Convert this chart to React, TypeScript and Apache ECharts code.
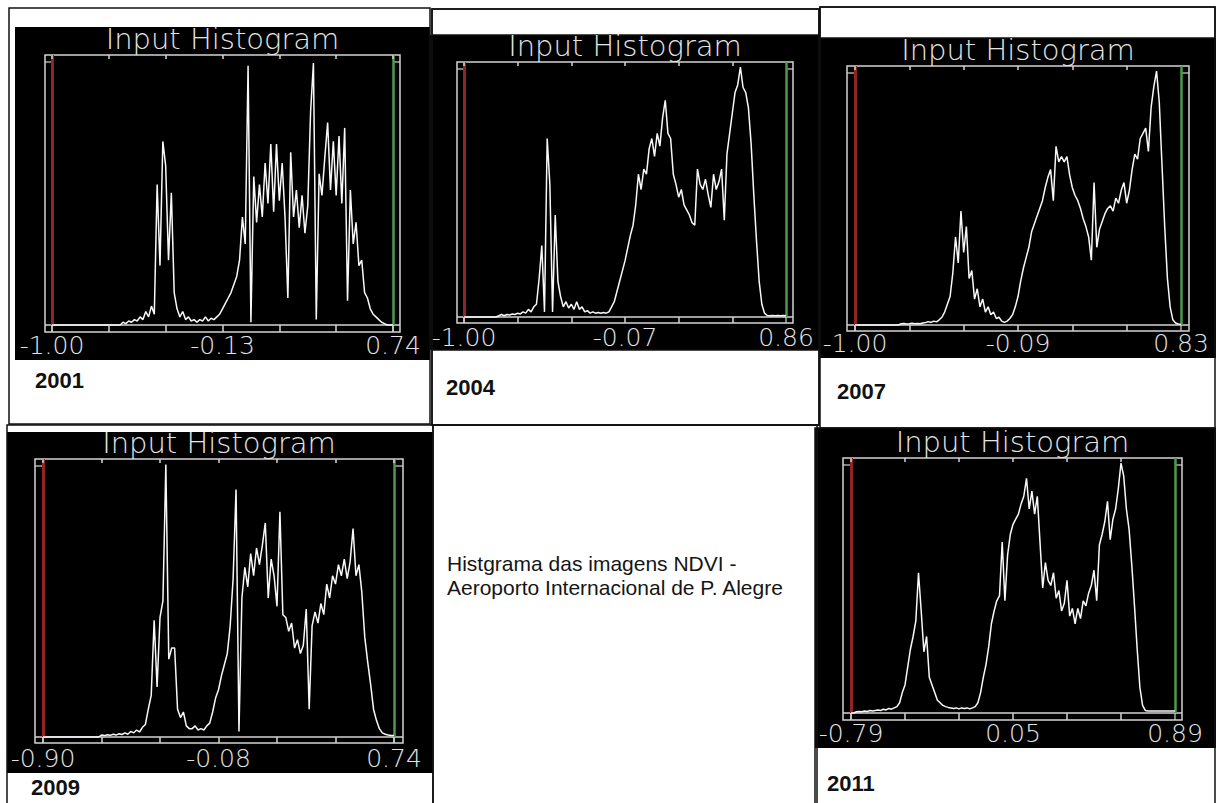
import { useEffect, useRef } from "react";
import * as echarts from "echarts";

// NDVI histograms of the Porto Alegre airport scenes.
// Each array holds 121 relative bin heights (0–100) spread evenly from the
// scene's NDVI minimum (red marker) to its maximum (green marker).
const years = ["2001", "2004", "2007", "2009", "2011"];
const rangeMin = [-1.0, -1.0, -1.0, -0.9, -0.79];
const rangeMax = [0.74, 0.86, 0.83, 0.74, 0.89];

const tickLabels2001 = ["-1.00", "-0.13", "0.74"];
const tickLabels2004 = ["-1.00", "-0.07", "0.86"];
const tickLabels2007 = ["-1.00", "-0.09", "0.83"];
const tickLabels2009 = ["-0.90", "-0.08", "0.74"];
const tickLabels2011 = ["-0.79", "0.05", "0.89"];

const counts2001 = [
  0, 0, 0, 0, 0, 0, 0, 0, 0, 0, 0, 0, 0, 0, 0, 0, 0, 0, 0, 0, 0, 0, 0, 0, 0,
  1, 0.5, 1.5, 1, 2, 1.5, 3, 2, 5, 3, 7, 4,
  52, 22, 68, 59, 24, 49, 12, 6, 3, 5, 2, 3,
  1.5, 2, 1, 2, 1.5, 3, 1.5, 2.5, 2, 3, 4, 6,
  8, 10, 12, 15, 18, 24, 40, 30, 96, 1, 55, 38,
  52, 40, 60, 45, 67, 42, 67, 46, 60, 40, 10, 64,
  40, 50, 36, 48, 34, 44, 79, 97, 2, 56, 48, 62,
  75, 50, 68, 48, 70, 45, 73, 9, 50, 30, 38, 22,
  24, 12, 10, 6, 4, 3, 2, 1, 0.5, 0, 0, 0,
];

const counts2004 = [
  0, 0, 0, 0, 0, 0, 0, 0, 0, 0, 0, 0, 0,
  0.5, 1, 0.5, 1, 0.8, 1.2, 1, 1.5, 1.2, 2, 1.5, 3,
  2, 4, 5, 15, 28, 2, 70, 52, 2, 40, 14, 8,
  4, 6, 3.5, 5, 3, 6, 3, 4, 2, 2.5, 1.5, 2,
  1.5, 1.8, 1.5, 1.8, 1.5, 2, 4, 6, 10, 14, 18, 22,
  27, 32, 36, 44, 56, 50, 58, 56, 66, 70, 63, 72,
  67, 78, 85, 72, 70, 56, 52, 47, 50, 44, 42, 40,
  37, 36, 58, 52, 50, 54, 48, 43, 56, 50, 53, 58,
  38, 64, 72, 80, 88, 91, 98, 90, 88, 82, 68, 48,
  30, 14, 5, 1.5, 0.6, 0.5, 0.6, 0.5, 0.6, 0.5, 0.6, 0.5,
];

const counts2007 = [
  0, 0, 0, 0, 0, 0, 0, 0, 0, 0, 0, 0, 0, 0, 0, 0, 0,
  0.5, 0.6, 0.4, 0.5, 0.7, 0.5, 0.6, 0.5, 0.8, 1, 1.3, 1,
  1.5, 1.2, 2, 3, 5, 8, 11, 20, 34, 24, 44, 28,
  38, 18, 21, 10, 14, 7, 10, 5, 7, 4, 5, 2.5,
  3, 1.5, 1, 1.5, 2.5,
  4, 7, 11, 17, 22, 26, 30, 36, 39, 42, 45, 48,
  53, 57, 60, 48, 69, 63, 65, 63, 65, 58, 53, 50,
  48, 45, 41, 38, 34, 25, 55, 30, 37, 40, 43, 45,
  46, 44, 49, 47, 52, 55, 47, 52, 60, 66, 64, 72,
  74, 76, 67, 84, 92, 98, 86, 62, 38, 18, 7, 2,
  0.8, 0.4, 0.3,
];

const counts2009 = [
  0, 0, 0, 0, 0, 0, 0, 0, 0, 0, 0, 0, 0, 0, 0, 0, 0, 0, 0, 0,
  0.7, 0.5, 0.8, 0.6, 1, 0.7, 1.2, 0.9, 1.5, 1, 2, 1.5,
  2.5, 1.8, 3.5, 4.5, 10, 15, 42, 18, 43, 49, 98, 28,
  32, 32, 10, 7, 9, 4, 3, 3, 4, 2.5, 3, 2.5,
  4, 5, 9, 14, 17, 22, 26, 30, 40, 57, 89, 2,
  50, 61, 54, 66, 58, 68, 62, 69, 77, 50, 64, 58,
  47, 81, 44, 43, 38, 41, 32, 35, 30, 33, 46, 10,
  40, 45, 41, 48, 44, 55, 50, 58, 55, 62, 58, 64,
  57, 63, 75, 58, 62, 52, 36, 27, 19, 10, 6, 3,
  1.5, 1, 0.7, 0.5, 0.5,
];

const counts2011 = [
  0, 0,
  0.5, 0.6, 0.5, 0.8, 0.6, 1, 0.8, 1, 1.2, 1, 1.5, 1.2,
  1.8, 1.5, 2, 2.5, 4, 8, 11, 18, 25, 30, 36, 55,
  40, 24, 30, 14, 11, 8, 5, 4, 3, 2.5, 2.2, 2,
  1.8, 2, 1.6, 2, 1.8, 2, 1.6, 2, 2.5, 4, 8, 14,
  19, 26, 35, 40, 44, 46, 67, 44, 62, 70, 74, 76,
  78, 82, 85, 92, 80, 87, 78, 85, 67, 49, 59, 52,
  50, 55, 45, 48, 40, 43, 52, 38, 41, 35, 41, 37,
  44, 42, 47, 50, 56, 44, 66, 70, 75, 83, 68, 76,
  80, 88, 98, 93, 80, 72, 58, 42, 25, 10, 3, 1,
  0.8, 0.8, 0.8, 0.8, 0.8, 0.8, 0.8, 0.8, 0.8, 0.8, 0.8,
];

const countsByYear = [counts2001, counts2004, counts2007, counts2009, counts2011];
const tickLabelsByYear = [tickLabels2001, tickLabels2004, tickLabels2007, tickLabels2009, tickLabels2011];

// Page layout (pixels): image block, plot frame [l, t, r, b], baseline,
// marker columns, label row and caption position of every panel.
const layout = [
  { black: [15, 27, 415, 333], frame: [45, 55, 400, 332], base: 325, red: 52, green: 393, labelY: 345, year: [35, 380] },
  { black: [430, 35, 390, 315], frame: [457, 62, 793, 323], base: 317, red: 464, green: 786, labelY: 337, year: [446, 387.5] },
  { black: [820, 38, 396, 320], frame: [847, 66, 1189, 331], base: 325, red: 855, green: 1181, labelY: 343, year: [837, 391.5] },
  { black: [7, 432, 426, 341], frame: [35, 459, 403, 743], base: 737, red: 43, green: 394, labelY: 758, year: [31, 787.5] },
  { black: [815, 428, 401, 320], frame: [843, 458, 1182, 720], base: 713, red: 851, green: 1175, labelY: 733, year: [827, 783] },
];

// Table cell outlines around the pictures
const cellBoxes = [
  [9, 8, 421, 416],
  [432, 9, 387, 416],
  [432, 9, 387, 26],
  [432, 350, 387, 75],
  [820, 7, 395, 421],
  [820, 7, 395, 31],
  [7, 425, 426, 400],
  [433, 425, 384, 400],
  [815, 428, 400, 400],
];

const FRAME = "#d4d4d4";
const INK = "#e4e4e4";
const RED = "#8e2424";
const GREEN = "#4e9a4e";
const THIN = "'DejaVu Sans', sans-serif";
const SANS = "'Liberation Sans', Arial, sans-serif";

function seg(x1: number, y1: number, x2: number, y2: number, color: string, w: number, z = 2) {
  return { type: "line", silent: true, z, shape: { x1, y1, x2, y2 }, style: { stroke: color, lineWidth: w } };
}

function buildOption() {
  const graphics: any[] = [];
  const grid: any[] = [];
  const xAxis: any[] = [];
  const yAxis: any[] = [];
  const series: any[] = [];

  cellBoxes.forEach(([x, y, w, h]) => {
    graphics.push({
      type: "rect", silent: true, z: 3,
      shape: { x, y, width: w, height: h },
      style: { fill: "none", stroke: "#111", lineWidth: 1.5 },
    });
  });

  layout.forEach((p, i) => {
    const mn = rangeMin[i];
    const mx = rangeMax[i];
    const counts = countsByYear[i];
    const labels = tickLabelsByYear[i];
    const [fl, ft, fr, fb] = p.frame;

    // picture background
    graphics.push({
      type: "rect", silent: true, z: 1,
      shape: { x: p.black[0], y: p.black[1], width: p.black[2], height: p.black[3] },
      style: { fill: "#000" },
    });
    // plot frame, baseline and the small corner boxes
    graphics.push({
      type: "rect", silent: true, z: 2,
      shape: { x: fl, y: ft, width: fr - fl, height: fb - ft },
      style: { fill: "none", stroke: FRAME, lineWidth: 1.5 },
    });
    graphics.push(seg(fl, p.base, fr, p.base, FRAME, 1.5));
    graphics.push(seg(fl, ft + 7, p.red, ft + 7, FRAME, 1.2));
    graphics.push(seg(p.green, ft + 7, fr, ft + 7, FRAME, 1.2));
    graphics.push(seg(p.red, p.base, p.red, fb, FRAME, 1.2));
    graphics.push(seg(p.green, p.base, p.green, fb, FRAME, 1.2));

    // panel title
    graphics.push({
      type: "text", silent: true, z: 4,
      style: {
        text: "Input Histogram", x: (fl + fr) / 2, y: ft - 16,
        align: "center", verticalAlign: "middle",
        fill: INK, font: `200 29px ${THIN}`,
      },
    });
    // year caption
    graphics.push({
      type: "text", silent: true, z: 4,
      style: {
        text: years[i], x: p.year[0], y: p.year[1],
        align: "left", verticalAlign: "middle",
        fill: "#111", font: `bold 22px ${SANS}`,
      },
    });

    grid.push({ left: p.red, top: ft, width: p.green - p.red, height: p.base - ft });

    const ticks = [0, 1, 2, 3, 4, 5, 6].map((k) => mn + ((mx - mn) * k) / 6);
    const labelValues = [mn, (mn + mx) / 2, mx];

    xAxis.push({
      type: "value", gridIndex: i, position: "bottom", min: mn, max: mx, z: 10,
      axisLine: { show: false }, splitLine: { show: false },
      axisTick: { show: true, inside: false, length: fb - p.base, customValues: ticks, lineStyle: { color: FRAME, width: 1.5 } },
      axisLabel: {
        show: true, customValues: labelValues, showMinLabel: true, showMaxLabel: true,
        margin: p.labelY - p.base - 12,
        color: INK, fontFamily: THIN, fontWeight: 200, fontSize: 25,
        formatter: (v: number) => labels[Math.round(((v - mn) / (mx - mn)) * 2)] ?? "",
      },
    });
    xAxis.push({
      type: "value", gridIndex: i, position: "top", min: mn, max: mx, z: 10,
      axisLine: { show: false }, splitLine: { show: false }, axisLabel: { show: false },
      axisTick: { show: true, inside: true, length: 4, customValues: ticks, lineStyle: { color: FRAME, width: 1.5 } },
    });
    yAxis.push({ type: "value", gridIndex: i, min: 0, max: 100, show: false });

    series.push({
      type: "line", name: years[i], xAxisIndex: 2 * i, yAxisIndex: i,
      data: counts.map((c, k) => [mn + ((mx - mn) * k) / (counts.length - 1), c]),
      showSymbol: false, symbol: "none", clip: false, z: 5,
      lineStyle: { color: "#f8f8f8", width: 1.5 },
      markLine: {
        silent: true, symbol: ["none", "none"], label: { show: false },
        lineStyle: { type: "solid" },
        data: [
          { xAxis: mn, lineStyle: { color: RED, width: 3, type: "solid" } },
          { xAxis: mx, lineStyle: { color: GREEN, width: 2.5, type: "solid" } },
        ],
      },
    });
  });

  graphics.push({
    type: "text", silent: true, z: 4,
    style: { text: "Histgrama das imagens NDVI -", x: 447, y: 563.7, align: "left", verticalAlign: "middle", fill: "#151515", font: `21px ${SANS}` },
  });
  graphics.push({
    type: "text", silent: true, z: 4,
    style: { text: "Aeroporto Internacional de P. Alegre", x: 447, y: 587, align: "left", verticalAlign: "middle", fill: "#151515", font: `21px ${SANS}` },
  });

  return {
    animation: false,
    backgroundColor: "#ffffff",
    graphic: { elements: graphics },
    grid, xAxis, yAxis, series,
  };
}

export default function App() {
  const ref = useRef<HTMLDivElement>(null);
  useEffect(() => {
    if (!ref.current) return;
    const chart = echarts.init(ref.current, null, { renderer: "svg", width: 1216, height: 803 });
    chart.setOption(buildOption() as any);
    return () => chart.dispose();
  }, []);
  return <div ref={ref} style={{ position: "absolute", left: 0, top: 0, width: 1216, height: 803 }} />;
}
